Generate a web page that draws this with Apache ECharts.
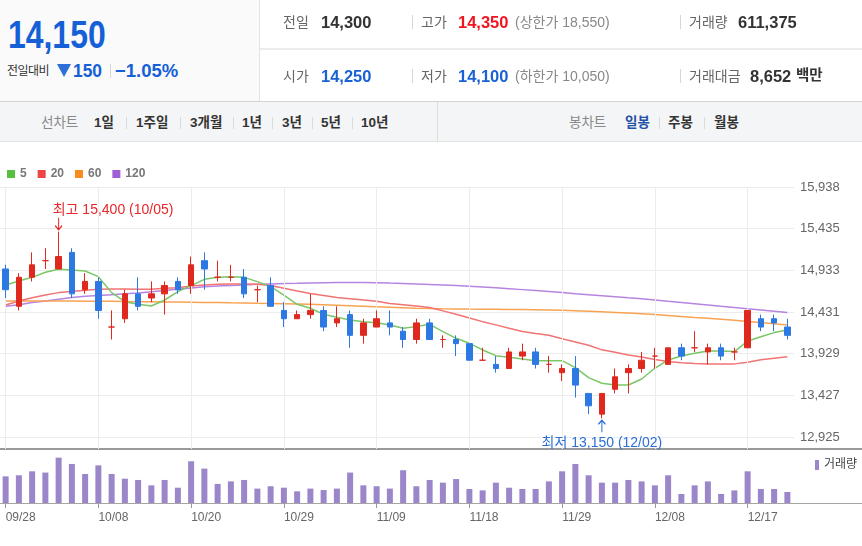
<!DOCTYPE html>
<html lang="ko">
<head>
<meta charset="utf-8">
<title>일봉 차트</title>
<script src="https://cdn.jsdelivr.net/npm/echarts@6/dist/echarts.min.js"></script>
<style>
html,body{margin:0;padding:0;background:#fff;}
body{width:862px;height:546px;position:relative;overflow:hidden;font-family:"Liberation Sans","Noto Sans CJK KR",Arial,sans-serif;}
#chart{position:absolute;left:0;top:0;width:862px;height:546px;}
.t{position:absolute;white-space:nowrap;line-height:1;}
.box{position:absolute;}
.sep{position:absolute;width:1px;background:#d6d6d6;}
.lab{font-size:14px;color:#666;}
.num{font-size:16.5px;font-weight:bold;color:#333;}
.sub{font-size:14px;color:#888;}
.nav{font-size:13.5px;color:#333;font-weight:bold;}
.navlab{font-size:13.5px;color:#888;}
</style>
</head>
<body>
<div id="chart"></div>

<!-- header -->
<div class="box" style="left:0;top:0;width:259px;height:101px;background:#fafafa;border-right:1px solid #e3e3e3;"></div>
<div class="t" style="left:8px;top:16px;font-size:38px;font-weight:bold;color:#1560d6;transform:scaleX(0.84);transform-origin:0 0;">14,150</div>
<div class="t" style="left:7px;top:65px;font-size:12px;color:#333;letter-spacing:-0.5px;">전일대비</div>
<div class="box" style="left:57px;top:64px;width:0;height:0;border-left:7.5px solid transparent;border-right:7.5px solid transparent;border-top:13px solid #2f6fd8;"></div>
<div class="t" style="left:73px;top:62px;font-size:18.5px;font-weight:bold;color:#1560d6;transform:scaleX(0.94);transform-origin:0 0;">150</div>
<div class="sep" style="left:110px;top:64px;height:14px;"></div>
<div class="t" style="left:115px;top:62px;font-size:18.5px;font-weight:bold;color:#1560d6;">−1.05%</div>

<div class="box" style="left:260px;top:48px;width:602px;height:2px;background:#ececec;"></div>

<div class="t lab" style="left:283px;top:15px;">전일</div>
<div class="t num" style="left:321px;top:14px;">14,300</div>
<div class="sep" style="left:412px;top:15px;height:14px;"></div>
<div class="t lab" style="left:421px;top:15px;">고가</div>
<div class="t num" style="left:458px;top:14px;color:#f2141e;">14,350</div>
<div class="t sub" style="left:515px;top:15px;">(상한가 18,550)</div>
<div class="sep" style="left:680px;top:15px;height:14px;"></div>
<div class="t lab" style="left:689px;top:15px;">거래량</div>
<div class="t num" style="left:738px;top:14px;">611,375</div>

<div class="t lab" style="left:283px;top:69px;">시가</div>
<div class="t num" style="left:321px;top:68px;color:#1a62d4;">14,250</div>
<div class="sep" style="left:412px;top:69px;height:14px;"></div>
<div class="t lab" style="left:421px;top:69px;">저가</div>
<div class="t num" style="left:458px;top:68px;color:#1a62d4;">14,100</div>
<div class="t sub" style="left:515px;top:69px;">(하한가 10,050)</div>
<div class="sep" style="left:680px;top:69px;height:14px;"></div>
<div class="t lab" style="left:689px;top:69px;">거래대금</div>
<div class="t num" style="left:750px;top:68px;">8,652</div>
<div class="t num" style="left:796px;top:68px;font-size:14.5px;">백만</div>

<!-- nav bar -->
<div class="box" style="left:0;top:101px;width:862px;height:39px;background:#f4f5f7;border-top:1px solid #d4d4d4;border-bottom:1px solid #e2e2e2;"></div>
<div class="box" style="left:437px;top:102px;width:1px;height:39px;background:#dcdcdc;"></div>
<div class="t navlab" style="left:41px;top:116px;">선차트</div>
<div class="t nav" style="left:94px;top:116px;">1일</div>
<div class="sep" style="left:126px;top:117px;height:12px;background:#dadada;"></div>
<div class="t nav" style="left:136px;top:116px;">1주일</div>
<div class="sep" style="left:180px;top:117px;height:12px;background:#dadada;"></div>
<div class="t nav" style="left:190px;top:116px;">3개월</div>
<div class="sep" style="left:233px;top:117px;height:12px;background:#dadada;"></div>
<div class="t nav" style="left:242px;top:116px;">1년</div>
<div class="sep" style="left:272px;top:117px;height:12px;background:#dadada;"></div>
<div class="t nav" style="left:282px;top:116px;">3년</div>
<div class="sep" style="left:312px;top:117px;height:12px;background:#dadada;"></div>
<div class="t nav" style="left:321px;top:116px;">5년</div>
<div class="sep" style="left:352px;top:117px;height:12px;background:#dadada;"></div>
<div class="t nav" style="left:361px;top:116px;">10년</div>
<div class="t navlab" style="left:569px;top:116px;">봉차트</div>
<div class="t nav" style="left:625px;top:116px;color:#2450a8;">일봉</div>
<div class="sep" style="left:659px;top:117px;height:12px;background:#dadada;"></div>
<div class="t nav" style="left:668px;top:116px;">주봉</div>
<div class="sep" style="left:704px;top:117px;height:12px;background:#dadada;"></div>
<div class="t nav" style="left:714px;top:116px;">월봉</div>

<script>
// 일자
const dates = ['09/28','09/29','09/30','10/01','10/05','10/06','10/07','10/08','10/12','10/13',
  '10/14','10/15','10/18','10/19','10/20','10/21','10/22','10/25','10/26','10/27',
  '10/28','10/29','11/01','11/02','11/03','11/04','11/05','11/08','11/09','11/10',
  '11/11','11/12','11/15','11/16','11/17','11/18','11/19','11/22','11/23','11/24',
  '11/25','11/26','11/29','11/30','12/01','12/02','12/03','12/06','12/07','12/08',
  '12/09','12/10','12/13','12/14','12/15','12/16','12/17','12/20','12/21','12/22'];

// 시가 / 종가 / 저가 / 고가
const opens = [14950,14500,14850,15050,14950,15150,14700,14800,14250,14350,
  14650,14600,14650,14800,14750,15050,14850,14850,14850,14700,
  14750,14450,14350,14400,14450,14300,14400,14150,14250,14300,
  14200,14100,14300,14100,14100,14050,13850,13800,13750,13900,
  13950,13800,13700,13750,13450,13200,13500,13700,13750,13900,
  13800,14000,14000,13950,14000,13950,14000,14350,14350,14250];
const closes = [14700,14850,15000,15050,15100,14650,14800,14450,14250,14650,
  14500,14650,14750,14700,15000,14950,14850,14850,14650,14700,
  14500,14350,14400,14450,14250,14350,14150,14300,14350,14250,
  14100,14300,14100,14100,14050,13850,13850,13750,13950,13950,
  13800,13800,13750,13550,13300,13450,13650,13750,13850,13900,
  14000,13900,14000,14000,13900,13950,14450,14250,14300,14150];
const lows = [14600,14450,14800,14950,14950,14600,14650,14350,14100,14300,
  14450,14550,14400,14650,14650,14700,14800,14800,14600,14550,
  14500,14250,14350,14350,14200,14250,14000,14050,14250,14150,
  14000,14050,14100,14000,13900,13850,13850,13700,13750,13850,
  13750,13700,13600,13400,13200,13150,13450,13450,13700,13750,
  13800,13850,13950,13800,13850,13850,14000,14200,14200,14100];
const highs = [15000,14900,15150,15200,15400,15200,14900,14850,14450,14700,
  14850,14800,14800,14850,15100,15150,15050,15000,14950,14750,
  14850,14550,14450,14650,14500,14500,14450,14350,14450,14450,
  14250,14350,14350,14150,14150,14050,14000,13900,14000,14050,
  14000,13900,13800,13900,13450,13450,13750,13800,13950,14000,
  14000,14050,14200,14050,14050,14000,14450,14400,14400,14350];

// 거래량
const volumes = [1480000,1540000,1760000,1690000,2520000,2170000,1610000,2090000,1610000,1350000,
  1280000,980000,1280000,850000,2320000,1910000,1060000,1200000,1280000,800000,
  930000,850000,650000,800000,720000,800000,1690000,980000,930000,800000,
  1820000,930000,1280000,1130000,1330000,780000,700000,1130000,850000,780000,
  780000,1200000,1760000,2170000,1540000,1130000,1130000,1280000,1200000,980000,
  1540000,500000,980000,1200000,500000,700000,1760000,780000,780000,611375];

// 이동평균선
const ma5 = [14757,14805,14849,14910,14946,14938,14926,14857,14665,14556,
  14524,14504,14576,14677,14749,14825,14849,14857,14849,14797,
  14737,14636,14524,14476,14403,14367,14335,14315,14303,14275,
  14235,14255,14283,14195,14114,14054,13974,13905,13885,13865,
  13845,13845,13845,13761,13640,13572,13552,13552,13624,13753,
  13853,13901,13933,13962,13962,13954,14082,14134,14183,14215];
const ma20 = [14516,14564,14604,14636,14665,14677,14693,14705,14709,14709,
  14705,14705,14717,14725,14745,14757,14765,14769,14769,14765,
  14750,14717,14685,14655,14630,14605,14590,14575,14560,14535,
  14520,14505,14485,14445,14405,14358,14315,14276,14235,14196,
  14172,14150,14110,14070,14030,13975,13945,13913,13888,13860,
  13835,13820,13810,13806,13804,13806,13825,13855,13875,13893];
const ma60 = [14565,14565,14564,14564,14563,14563,14562,14561,14560,14558,
  14556,14555,14553,14551,14549,14547,14545,14542,14540,14537,
  14535,14532,14528,14524,14519,14514,14508,14502,14496,14490,
  14484,14478,14474,14470,14468,14466,14465,14464,14462,14460,
  14458,14456,14452,14446,14440,14433,14426,14418,14410,14400,
  14390,14378,14366,14355,14344,14332,14318,14305,14290,14275];
const ma120 = [14500,14520,14545,14565,14585,14605,14620,14630,14640,14650,
  14660,14675,14690,14705,14720,14735,14745,14752,14758,14765,
  14770,14775,14778,14782,14785,14787,14788,14788,14785,14780,
  14776,14770,14764,14757,14750,14742,14733,14723,14712,14701,
  14690,14678,14665,14652,14640,14628,14615,14602,14590,14577,
  14560,14545,14530,14515,14500,14487,14470,14455,14440,14425];

// 가격축 눈금
const priceTicks = [12925,13427,13929,14431,14933,15435,15938];
const highMark = {date: '10/05', value: 15400};
const lowMark = {date: '12/02', value: 13150};

const fmt = v => Number(v).toLocaleString('en-US');
const FONT = "'Liberation Sans','Noto Sans CJK KR',Arial,sans-serif";
const RED = '#e0291e', BLUE = '#2d79e4';

let mychart = echarts.init(document.getElementById('chart'));
const candles = dates.map((d, i) => [opens[i], closes[i], lows[i], highs[i]]);
const gridDates = dates.filter((d, i) => i % 7 === 0);

const maLine = (name, data, color) => ({
  name: name, type: 'line', data: data, xAxisIndex: 0, yAxisIndex: 0,
  symbol: 'none', silent: true, z: 3,
  lineStyle: {color: color, width: 1.5}, itemStyle: {color: color}
});

mychart.setOption({
  animation: false,
  textStyle: {fontFamily: FONT},
  legend: [
    {
      left: 7, top: 168, padding: 0, icon: 'rect', itemWidth: 8, itemHeight: 8, itemGap: 11,
      selectedMode: false,
      textStyle: {fontSize: 12, fontWeight: 'bold', color: '#777'},
      data: [
        {name: '5', itemStyle: {color: '#58bf40'}},
        {name: '20', itemStyle: {color: '#ee4646'}},
        {name: '60', itemStyle: {color: '#f98c1d'}},
        {name: '120', itemStyle: {color: '#a05fd3'}}
      ]
    },
    {
      left: 815, top: 459, padding: 0, icon: 'rect', itemWidth: 4, itemHeight: 10,
      selectedMode: false,
      textStyle: {fontSize: 12, color: '#444'},
      data: ['거래량']
    }
  ],
  grid: [
    {left: -1, width: 795, top: 187, height: 262, containLabel: false, outerBoundsMode: 'none'},
    {left: -1, width: 795, top: 449, height: 54, containLabel: false, outerBoundsMode: 'none'}
  ],
  xAxis: [
    {
      type: 'category', gridIndex: 0, data: dates, boundaryGap: true,
      axisLine: {show: false}, axisTick: {show: false}, axisLabel: {show: false}, splitLine: {show: false}
    },
    {
      type: 'category', gridIndex: 1, data: dates, boundaryGap: true,
      axisLine: {show: false},
      axisTick: {show: true, interval: 6, alignWithLabel: true, length: 5, lineStyle: {color: '#999'}},
      axisLabel: {interval: 6, align: 'left', margin: 9, fontSize: 12, color: '#666'},
      splitLine: {show: false}
    }
  ],
  yAxis: [
    {
      type: 'value', gridIndex: 0, position: 'right', min: 12780, max: 15938,
      axisLine: {show: false},
      axisTick: {show: false, customValues: priceTicks},
      axisLabel: {customValues: priceTicks, formatter: fmt, fontSize: 13, color: '#666', margin: 6},
      splitLine: {show: true, lineStyle: {color: '#ececec', width: 1}}
    },
    {type: 'value', gridIndex: 1, min: 0, max: 3000000, show: false}
  ],
  graphic: [
    {type: 'rect', shape: {x: 0, y: 448, width: 862, height: 2}, style: {fill: '#9a9a9a'}, silent: true},
    {type: 'rect', shape: {x: 0, y: 503, width: 862, height: 1}, style: {fill: '#a5a5a5'}, silent: true}
  ],
  series: [
    {
      name: 'grid', type: 'line', data: [], xAxisIndex: 0, yAxisIndex: 0, z: 1, silent: true,
      markLine: {
        silent: true, symbol: ['none', 'none'], label: {show: false},
        lineStyle: {color: '#ececec', width: 1, type: 'solid'},
        data: gridDates.map(d => ({xAxis: d}))
      }
    },
    maLine('120', ma120, '#b585e0'),
    maLine('60', ma60, '#f9a352'),
    maLine('20', ma20, '#f27373'),
    maLine('5', ma5, '#7ac766'),
    {
      name: '일봉', type: 'candlestick', data: candles, xAxisIndex: 0, yAxisIndex: 0,
      barWidth: 6, z: 5,
      itemStyle: {
        color: RED, color0: BLUE, borderColor: RED, borderColor0: BLUE,
        borderColorDoji: RED, borderWidth: 1
      },
      markPoint: {
        silent: true,
        data: [
          {
            coord: [highMark.date, highMark.value],
            symbol: 'path://M4,0 L4,12 M0.5,8 L4,12 L7.5,8',
            symbolSize: [7, 12], symbolOffset: [0, -8],
            itemStyle: {color: 'none', borderColor: '#e8262a', borderWidth: 1.3},
            label: {
              show: true, position: [-0.5, -11], color: '#e8262a', fontSize: 14,
              formatter: '최고 ' + fmt(highMark.value) + ' (' + highMark.date + ')'
            }
          },
          {
            coord: [lowMark.date, lowMark.value],
            symbol: 'path://M4,12 L4,0 M0.5,4 L4,0 L7.5,4',
            symbolSize: [7, 12], symbolOffset: [0, 8],
            itemStyle: {color: 'none', borderColor: '#2c6fd6', borderWidth: 1.3},
            label: {
              show: true, position: 'bottom', distance: 1, color: '#2c6fd6', fontSize: 14,
              formatter: '최저 ' + fmt(lowMark.value) + ' (' + lowMark.date + ')'
            }
          }
        ]
      }
    },
    {
      name: '거래량', type: 'bar', data: volumes, xAxisIndex: 1, yAxisIndex: 1,
      barWidth: 6, itemStyle: {color: '#9a86c8'}
    }
  ]
});
</script>
</body>
</html>
